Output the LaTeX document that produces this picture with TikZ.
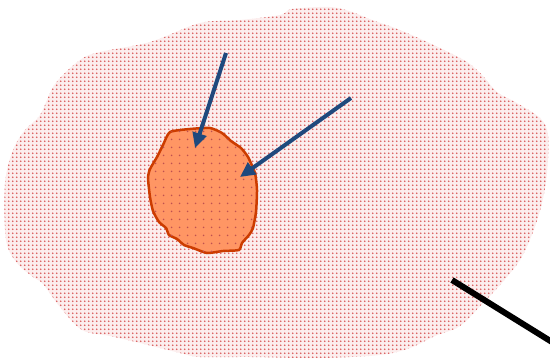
\documentclass[tikz,border=0pt]{standalone}
\usepackage{tikz}
\usetikzlibrary{arrows.meta,patterns}
\usepackage{xcolor}
\definecolor{regionbg}{RGB}{252,238,238}
\definecolor{regiondot}{RGB}{216,88,88}
\definecolor{cellfill}{RGB}{255,150,100}
\definecolor{celledge}{RGB}{204,60,0}
\definecolor{celldot}{RGB}{190,80,80}
\definecolor{pointer}{RGB}{31,73,125}

\pgfdeclarepatternformonly{finedots}{\pgfpointorigin}{\pgfpoint{3.7pt}{3.7pt}}{\pgfpoint{3.7pt}{3.7pt}}{%
  \pgfpathcircle{\pgfpoint{1.85pt}{1.85pt}}{1pt}\pgfusepath{fill}}
\pgfdeclarepatternformonly{sparsedots}{\pgfpointorigin}{\pgfpoint{8pt}{8pt}}{\pgfpoint{8pt}{8pt}}{%
  \pgfpathcircle{\pgfpoint{4pt}{4pt}}{1pt}\pgfusepath{fill}}

\begin{document}
\begin{tikzpicture}[x=1pt, y=-1pt,
    region/.style={fill=regionbg, postaction={pattern=finedots, pattern color=regiondot}},
    cell/.style={draw=celledge, line width=2.5pt, fill=cellfill,
        postaction={pattern=sparsedots, pattern color=celldot}},
    arr/.style={-{Triangle[length=15pt, width=14pt]}, line width=4pt, pointer},
    bar/.style={line width=6pt, black}
]
    \useasboundingbox (0,0) rectangle (550,359);

    % outer region
    \path[region] plot[smooth cycle, tension=0.55] coordinates {
        (40,115) (55,84) (80,60) (100,52) (150,42) (200,23) (240,20) (280,15)
        (292,9) (330,7) (352,12) (372,20) (400,30) (440,48) (467,62) (482,75)
        (497,92) (515,102) (540,118) (548,135) (547,173) (542,203) (533,232)
        (520,260) (500,285) (483,303) (460,326) (435,336) (410,348) (380,355)
        (320,358) (250,357) (200,357) (180,353) (140,343) (110,336) (82,330)
        (60,307) (43,284) (33,277) (17,263) (6,240) (5,183) (13,150) (25,130)};

    % inner cell
    \path[cell] plot[smooth cycle, tension=0.35] coordinates {
        (170,132) (190,129) (210,128) (222,133) (231,141) (241,148) (248,157)
        (255,173) (257,190) (256,212) (253,228) (249,235) (242,243) (239,250)
        (223,251) (207,253) (193,248) (184,245) (177,239) (169,235) (166,228)
        (159,222) (153,211) (150,197) (148,178) (150,169) (157,157) (163,145)};

    % pointers
    \coordinate (p1s) at (226,53);
    \coordinate (p1e) at (195,148);
    \coordinate (p2s) at (351,98);
    \coordinate (p2e) at (240,177);
    \draw[arr] (p1s) -- (p1e);
    \draw[arr] (p2s) -- (p2e);

    % black bar
    \coordinate (bs) at (452,280);
    \coordinate (be) at (552,342);
    \draw[bar] (bs) -- (be);
\end{tikzpicture}
\end{document}
